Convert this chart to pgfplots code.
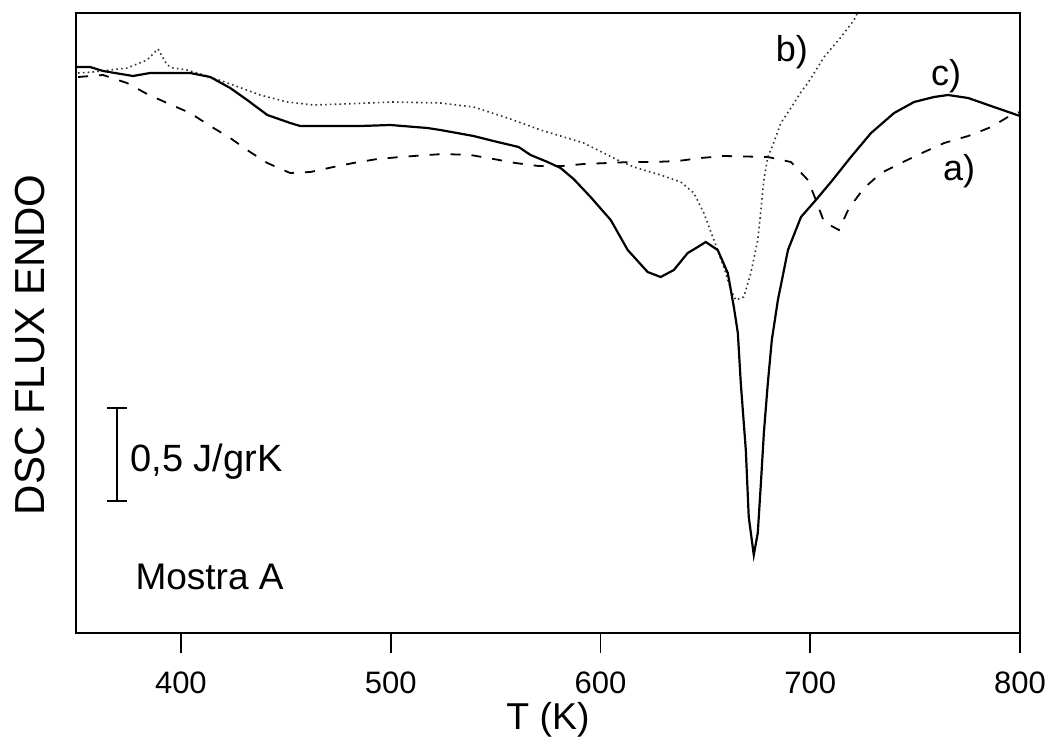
\documentclass[border=0pt]{standalone}
\usepackage{pgfplots}
\pgfplotsset{compat=1.18}
\usepackage{fontspec}
\setmainfont{Liberation Sans}

\begin{document}
\begin{tikzpicture}
\useasboundingbox (-38pt,-54pt) rectangle (485pt,316.5pt);
\begin{axis}[
  scale only axis, width=472pt, height=310pt,
  xmin=350, xmax=800, ymin=0, ymax=620,
  xtick={400,500,600,700,800},
  ytick=\empty,
  xtick pos=lower, tick align=outside, major tick length=10pt,
  axis line style={line width=1pt}, every tick/.style={line width=0.9pt, black},
  /pgf/number format/assume math mode=true,
  xticklabel style={font=\fontsize{15.5}{18}\selectfont, yshift=-6pt},
  xlabel={T (K)}, ylabel={DSC FLUX ENDO},
  xlabel style={font=\fontsize{18.7}{22}\selectfont, at={(axis description cs:0.5,-0.14)}, anchor=center},
  ylabel style={font=\fontsize{21}{24}\selectfont, at={(axis description cs:-0.0487,0.465)}, anchor=center},
  clip=true,
]
% a) dashed
\addplot[black, line width=0.9pt, dash pattern=on 5pt off 5.5pt] coordinates {
(351,556) (362.9,558) (374.3,550) (383.9,539) (393.4,530) (404.4,520) (414.0,507)
(423.5,495) (433.0,481) (441.2,470) (452.1,460) (461.7,461) (472.7,466) (482.2,470)
(493.7,474) (504.6,476) (517.5,478) (525.2,479) (538.1,478) (549.0,474) (559.5,470)
(570.5,467) (582.0,467) (592.0,469) (603.5,470) (614.4,471) (625.4,471) (636.9,472)
(647.9,475) (658.8,477) (679.8,476) (690.8,471) (698.9,453) (702.7,433) (706.6,411)
(713.7,403) (718.5,425) (725.7,445) (733.8,460) (744.3,471) (754.3,481) (763.9,490)
(775.3,497) (786.3,506) (795.8,518) (800,521)
};
% b) dotted
\addplot[black!80, line width=0.8pt, dash pattern=on 0.8pt off 1.6pt] coordinates {
(351,560) (358.1,561) (374.3,565) (383.9,573) (389.1,584) (393.4,568) (396.3,565)
(403.0,563) (414.0,556) (424.9,548) (437.8,538) (450.7,531) (463.1,528) (477.4,529)
(501.3,531) (523.7,530) (539.5,526) (555.7,515) (571.5,503) (592.0,490) (598.7,483)
(608.2,473) (615.9,466) (628.7,458) (638.3,451) (644.5,440) (649.3,420) (654.1,393)
(658.8,366) (662.2,343) (664.5,333) (668.3,336) (671.7,360) (675.0,393) (676.5,423)
(677.9,453) (679.8,476) (682.2,488) (686.0,510) (690.8,525) (695.6,541) (698.9,550)
(706.6,576) (714.7,596) (720.9,613) (722.5,620)
};
% c) solid
\addplot[black, line width=1.1pt] coordinates {
(350,566) (356.7,566) (362.9,562) (377.2,557) (385.3,560) (404.4,560) (414.0,556)
(423.5,545) (431.6,533) (441.2,518) (452.1,510) (456.9,507) (485.6,507) (499.9,508)
(517.5,505) (523.7,503) (539.5,497) (549.0,492) (561.0,486) (566.7,478) (574.8,471)
(581.0,465) (587.2,454) (595.3,436) (604.9,413) (613.0,383) (622.5,361) (628.7,356)
(635.0,363) (641.6,380) (646.4,386) (650.2,391) (655.9,383) (660.7,360) (663.6,326)
(665.5,300) (666.9,250) (669.3,183) (670.7,116) (673.1,78) (675.0,100) (676.5,150)
(677.9,200) (679.8,250) (681.7,293) (684.6,333) (689.4,383) (695.6,416) (702.7,433)
(709.9,451) (719.4,476) (729.0,500) (740.0,520) (749.5,531) (759.0,536) (765.7,538)
(775.3,535) (786.2,527) (800,517)
};
% scale bar
\draw[line width=0.9pt] (axis cs:369.6,132) -- (axis cs:369.6,225);
\draw[line width=0.9pt] (axis cs:364.8,132) -- (axis cs:374.4,132);
\draw[line width=0.9pt] (axis cs:364.8,225) -- (axis cs:374.4,225);
\node[anchor=west, inner sep=0pt, font=\fontsize{19}{22}\selectfont] at (axis cs:375.8,171) {0,5 J/grK};
\node[anchor=west, inner sep=0pt, font=\fontsize{18.5}{22}\selectfont] at (axis cs:378.2,56) {Mostra A};
\node[inner sep=0pt, font=\fontsize{18}{22}\selectfont] at (axis cs:691.3,581) {b)};
\node[inner sep=0pt, font=\fontsize{18}{22}\selectfont] at (axis cs:764.8,557) {c)};
\node[inner sep=0pt, font=\fontsize{18}{22}\selectfont] at (axis cs:771.0,462) {a)};
\end{axis}
\end{tikzpicture}
\end{document}
